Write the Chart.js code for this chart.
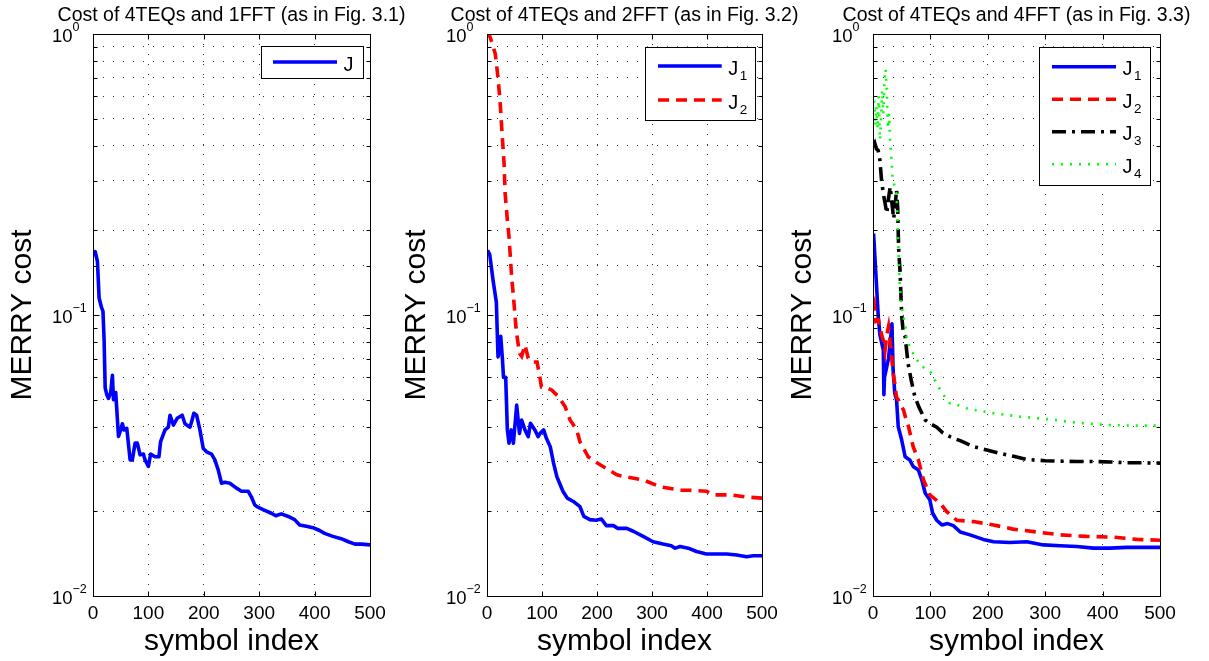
<!DOCTYPE html>
<html>
<head>
<meta charset="utf-8">
<script src="https://cdn.jsdelivr.net/npm/chart.js@4.4.0/dist/chart.umd.min.js"></script>
<style>
  body { margin: 0; background: #fff; width: 1209px; height: 661px; overflow: hidden; position: relative; }
  canvas { position: absolute; top: 0; }
</style>
</head>
<body>
<canvas id="c1" width="430" height="661" style="left:0px"></canvas>
<canvas id="c2" width="430" height="661" style="left:394px"></canvas>
<canvas id="c3" width="429" height="661" style="left:780px"></canvas>
<script>
const FONT = '"Liberation Sans", Arial, sans-serif';

const panelTitles = [
  'Cost of 4TEQs and 1FFT (as in Fig. 3.1)',
  'Cost of 4TEQs and 2FFT (as in Fig. 3.2)',
  'Cost of 4TEQs and 4FFT (as in Fig. 3.3)'
];
const xLabel = 'symbol index';
const yLabel = 'MERRY cost';
const xTickVals = [0, 100, 200, 300, 400, 500];
const yMajor = [1, 0.1, 0.01];
const yExp = ['0', '\u22121', '\u22122'];

// Fig. 3.1 : J
const a_x = [1, 4, 8, 11, 15, 18, 20, 22, 25, 28, 32, 35, 37, 41, 46, 50, 53, 56, 61, 67, 71, 76, 80, 85, 91, 94, 100, 104, 112, 119, 122, 130, 136, 139, 145, 152, 161, 166, 175, 178, 182, 187, 193, 199, 205, 214, 220, 226, 232, 238, 247, 259, 268, 280, 286, 292, 296, 307, 322, 330, 340, 355, 364, 373, 385, 397, 409, 418, 433, 448, 461, 473, 485, 500];
const a_J = [0.162, 0.168, 0.155, 0.115, 0.107, 0.103, 0.082, 0.055, 0.052, 0.0505, 0.053, 0.061, 0.05, 0.053, 0.037, 0.039, 0.041, 0.039, 0.0395, 0.0305, 0.0305, 0.035, 0.035, 0.0318, 0.032, 0.0305, 0.0289, 0.032, 0.0313, 0.0313, 0.0354, 0.039, 0.0399, 0.044, 0.0406, 0.0429, 0.044, 0.041, 0.0399, 0.0417, 0.0447, 0.044, 0.039, 0.0335, 0.0326, 0.032, 0.0305, 0.0281, 0.0252, 0.0254, 0.0252, 0.0242, 0.0236, 0.0236, 0.0225, 0.0211, 0.0208, 0.0203, 0.0197, 0.0193, 0.0196, 0.0191, 0.0187, 0.0179, 0.0177, 0.0175, 0.0171, 0.0167, 0.0163, 0.016, 0.0156, 0.0153, 0.0153, 0.0152];

// Fig. 3.2 : J1, J2
const b1_x = [1, 5, 11, 17, 20, 23, 25, 28, 30, 34, 37, 40, 44, 48, 54, 59, 63, 69, 75, 79, 87, 93, 97, 103, 108, 115, 121, 127, 132, 138, 146, 157, 169, 176, 187, 198, 208, 217, 230, 238, 254, 266, 284, 302, 320, 335, 342, 351, 366, 381, 399, 418, 436, 454, 472, 484, 500];
const b1_J = [0.17, 0.164, 0.133, 0.111, 0.071, 0.076, 0.084, 0.07, 0.06, 0.06, 0.039, 0.035, 0.039, 0.035, 0.0478, 0.0379, 0.0423, 0.039, 0.0369, 0.0412, 0.039, 0.0369, 0.038, 0.039, 0.0364, 0.034, 0.0297, 0.0266, 0.0252, 0.0236, 0.0223, 0.0217, 0.0208, 0.0192, 0.0187, 0.0186, 0.0188, 0.0178, 0.0178, 0.0174, 0.0174, 0.017, 0.0163, 0.0156, 0.0153, 0.0151, 0.0148, 0.015, 0.0148, 0.0144, 0.0141, 0.0141, 0.0141, 0.014, 0.0138, 0.0139, 0.0139];
const b2_x = [2, 10, 15, 20, 24, 27, 31, 33, 37, 40, 45, 48, 53, 59, 63, 69, 75, 83, 91, 96, 99, 105, 118, 130, 142, 151, 163, 169, 184, 196, 211, 236, 250, 284, 314, 351, 366, 399, 412, 442, 472, 500];
const b2_J = [1.02, 0.92, 0.85, 0.7, 0.567, 0.455, 0.347, 0.271, 0.218, 0.19, 0.135, 0.117, 0.0885, 0.073, 0.0713, 0.0782, 0.0702, 0.068, 0.068, 0.0603, 0.0555, 0.0555, 0.054, 0.0512, 0.0472, 0.0423, 0.039, 0.0354, 0.0313, 0.0301, 0.0289, 0.027, 0.0266, 0.0259, 0.0245, 0.0238, 0.0238, 0.0236, 0.0229, 0.0229, 0.0225, 0.0223];

// Fig. 3.3 : J1 .. J4
const c1_x = [1, 5, 9, 12, 15, 18, 19, 20, 24, 27, 30, 33, 35, 38, 41, 44, 50, 56, 64, 70, 79, 85, 91, 99, 104, 111, 120, 130, 140, 152, 169, 192, 210, 238, 268, 297, 326, 355, 384, 413, 442, 471, 500];
const c1_J = [0.195, 0.14, 0.1, 0.085, 0.08, 0.075, 0.052, 0.06, 0.0655, 0.07, 0.08, 0.093, 0.064, 0.0526, 0.05, 0.04, 0.0359, 0.0313, 0.0305, 0.0289, 0.0281, 0.0259, 0.0232, 0.022, 0.0197, 0.0186, 0.0179, 0.0181, 0.0178, 0.0169, 0.0165, 0.0159, 0.0156, 0.0155, 0.0156, 0.0152, 0.0151, 0.015, 0.0148, 0.0148, 0.0149, 0.0149, 0.0149];
const c2_x = [0, 2, 5, 9, 12, 15, 19, 21, 24, 27, 30, 33, 35, 38, 41, 44, 50, 53, 57, 62, 70, 79, 88, 99, 117, 128, 146, 175, 210, 244, 285, 326, 372, 419, 459, 500];
const c2_J = [0.107, 0.11, 0.095, 0.096, 0.091, 0.085, 0.08, 0.075, 0.085, 0.091, 0.08, 0.069, 0.062, 0.057, 0.051, 0.05, 0.047, 0.046, 0.043, 0.04, 0.034, 0.0305, 0.0259, 0.0229, 0.0214, 0.02, 0.0186, 0.0184, 0.0179, 0.0173, 0.0169, 0.0165, 0.0163, 0.0162, 0.0159, 0.0158];
const c3_x = [0, 3, 6, 9, 12, 15, 18, 21, 24, 27, 30, 33, 36, 39, 41, 43, 44, 45, 47, 49, 50, 53, 56, 61, 67, 73, 80, 91, 100, 111, 122, 134, 155, 175, 200, 221, 245, 268, 300, 326, 355, 384, 413, 442, 470, 500];
const c3_J = [0.4, 0.41, 0.39, 0.385, 0.356, 0.3, 0.27, 0.25, 0.23, 0.26, 0.286, 0.25, 0.22, 0.25, 0.279, 0.24, 0.195, 0.166, 0.145, 0.113, 0.099, 0.086, 0.0838, 0.0673, 0.058, 0.0512, 0.047, 0.0423, 0.041, 0.0399, 0.038, 0.0369, 0.0355, 0.034, 0.033, 0.0322, 0.0314, 0.0306, 0.0303, 0.0302, 0.0301, 0.0301, 0.03, 0.0298, 0.0298, 0.0297];
const c4_x = [0, 2, 4, 6, 8, 10, 12, 14, 16, 18, 20, 22, 24, 26, 28, 30, 32, 34, 36, 38, 41, 44, 46, 49, 53, 56, 59, 65, 70, 82, 100, 114, 125, 134, 143, 163, 180, 210, 256, 303, 355, 407, 453, 500];
const c4_J = [0.54, 0.58, 0.47, 0.55, 0.46, 0.6, 0.42, 0.5, 0.63, 0.52, 0.69, 0.75, 0.62, 0.46, 0.52, 0.41, 0.36, 0.31, 0.3, 0.28, 0.27, 0.18, 0.133, 0.11, 0.098, 0.0934, 0.0815, 0.076, 0.073, 0.0664, 0.0627, 0.0555, 0.0512, 0.0485, 0.0482, 0.0466, 0.0458, 0.0447, 0.0435, 0.0426, 0.0414, 0.0406, 0.0404, 0.0404];

function pts(xs, ys) {
  return xs.map((x, i) => ({ x: x, y: ys[i] }));
}

// line styles like matlab 'b-', 'r--', 'k-.', 'g:'
const blue  = { borderColor: '#0000ff', borderWidth: 3.6, borderDash: [], borderJoinStyle: 'round' };
const red   = { borderColor: '#ff0000', borderWidth: 3.6, borderDash: [11, 7] };
const black = { borderColor: '#000000', borderWidth: 3.6, borderDash: [14, 6, 3, 6] };
const green = { borderColor: '#00ff00', borderWidth: 2.6, borderDash: [2, 7] };

function isMajor(v) {
  const l = Math.log10(v);
  return Math.abs(l - Math.round(l)) < 1e-6;
}

// frame, inward ticks, 10^n labels, title and boxed legend
const matlabPlugin = {
  id: 'matlab',
  afterDraw(chart, args, o) {
    const { ctx, chartArea: a } = chart;
    const xs = chart.scales.x, ys = chart.scales.y;
    ctx.save();
    ctx.strokeStyle = '#000';
    ctx.lineWidth = 1;
    ctx.setLineDash([]);
    const l = Math.round(a.left) + 0.5, r = Math.round(a.right) + 0.5;
    const t = Math.round(a.top) + 0.5, b = Math.round(a.bottom) + 0.5;
    ctx.beginPath();
    ctx.rect(l, t, r - l, b - t);
    xs.ticks.forEach(tk => {
      const p = Math.round(xs.getPixelForValue(tk.value)) + 0.5;
      ctx.moveTo(p, b); ctx.lineTo(p, b - 5);
      ctx.moveTo(p, t); ctx.lineTo(p, t + 5);
    });
    ys.ticks.forEach(tk => {
      const p = Math.round(ys.getPixelForValue(tk.value)) + 0.5;
      const len = isMajor(tk.value) ? 6 : 4;
      ctx.moveTo(l, p); ctx.lineTo(l + len, p);
      ctx.moveTo(r, p); ctx.lineTo(r - len, p);
    });
    ctx.stroke();

    ctx.fillStyle = '#000';
    ctx.textAlign = 'left';
    ctx.textBaseline = 'alphabetic';
    yMajor.forEach((v, i) => {
      const p = ys.getPixelForValue(v);
      ctx.font = '18.5px ' + FONT;
      ctx.fillText('10', a.left - 41, p + 8);
      ctx.font = '12.5px ' + FONT;
      ctx.fillText(yExp[i], a.left - 20.5, p - 3);
    });

    ctx.font = '19.5px ' + FONT;
    ctx.textAlign = 'center';
    ctx.fillText(o.title, (a.left + a.right) / 2, 20.5);

    const lg = o.legend;
    const bx = a.right - lg.right - lg.w, by = a.top + lg.top;
    ctx.fillStyle = '#fff';
    ctx.fillRect(bx, by, lg.w, lg.h);
    ctx.strokeRect(Math.round(bx) + 0.5, Math.round(by) + 0.5, Math.round(lg.w), Math.round(lg.h));
    chart.data.datasets.forEach((ds, i) => {
      const yy = by + lg.row0 + i * lg.gap;
      ctx.save();
      ctx.strokeStyle = ds.borderColor;
      ctx.lineWidth = ds.borderWidth;
      ctx.setLineDash(ds.borderDash || []);
      ctx.beginPath();
      ctx.moveTo(bx + lg.x0, yy);
      ctx.lineTo(bx + lg.x1, yy);
      ctx.stroke();
      ctx.restore();
      const parts = ds.label.split('_');
      ctx.fillStyle = '#000';
      ctx.textAlign = 'left';
      ctx.font = '20px ' + FONT;
      const tx = bx + lg.x1 + 6.5;
      ctx.fillText(parts[0], tx, yy + 8.5);
      if (parts[1]) {
        const w = ctx.measureText(parts[0]).width;
        ctx.font = '13.5px ' + FONT;
        ctx.fillText(parts[1], tx + w + 1.5, yy + 13.5);
      }
    });
    ctx.restore();
  }
};

function makeChart(id, datasets, title, padRight, legend) {
  return new Chart(document.getElementById(id), {
    type: 'line',
    data: { datasets: datasets },
    options: {
      responsive: false,
      animation: false,
      layout: { padding: { left: 0, right: padRight, top: 34, bottom: 0 } },
      elements: { point: { radius: 0 }, line: { tension: 0, fill: false } },
      plugins: {
        legend: { display: false },
        tooltip: { enabled: false },
        matlab: { title: title, legend: legend }
      },
      scales: {
        x: {
          type: 'linear', min: 0, max: 500,
          afterBuildTicks: s => { s.ticks = xTickVals.map(v => ({ value: v })); },
          afterFit: s => { s.height = 65; },
          grid: { color: '#333', lineWidth: 1, drawTicks: false },
          border: { display: false, dash: [1, 9] },
          ticks: { color: '#000', font: { family: FONT, size: 19 }, padding: 6, maxRotation: 0 },
          title: { display: true, text: xLabel, color: '#000', font: { family: FONT, size: 30 }, padding: { top: 0, bottom: 1.5 } }
        },
        y: {
          type: 'logarithmic', min: 0.01, max: 1,
          afterFit: s => { s.width = 93; },
          grid: { color: '#333', lineWidth: 1, drawTicks: false },
          border: { display: false, dash: [1, 9] },
          ticks: { display: false },
          title: { display: true, text: yLabel, color: '#000', font: { family: FONT, size: 30 }, padding: { top: 4.5, bottom: 0 } }
        }
      }
    },
    plugins: [matlabPlugin]
  });
}

makeChart('c1', [
  Object.assign({ label: 'J', data: pts(a_x, a_J) }, blue)
], panelTitles[0], 60, { right: 7.7, top: 12, w: 101.6, h: 32.3, row0: 16, gap: 34, x0: 12.3, x1: 76.3 });

makeChart('c2', [
  Object.assign({ label: 'J_1', data: pts(b1_x, b1_J), order: 1 }, blue),
  Object.assign({ label: 'J_2', data: pts(b2_x, b2_J), order: 0 }, red)
], panelTitles[1], 62, { right: 7, top: 12.7, w: 110, h: 72.6, row0: 19.3, gap: 34, x0: 13, x1: 76.7 });

makeChart('c3', [
  Object.assign({ label: 'J_1', data: pts(c1_x, c1_J), order: 3 }, blue),
  Object.assign({ label: 'J_2', data: pts(c2_x, c2_J), order: 2 }, red),
  Object.assign({ label: 'J_3', data: pts(c3_x, c3_J), order: 1 }, black),
  Object.assign({ label: 'J_4', data: pts(c4_x, c4_J), order: 0 }, green)
], panelTitles[2], 49, { right: 10, top: 12.7, w: 110.7, h: 138.3, row0: 20, gap: 32.5, x0: 12.7, x1: 76.7 });
</script>
</body>
</html>
